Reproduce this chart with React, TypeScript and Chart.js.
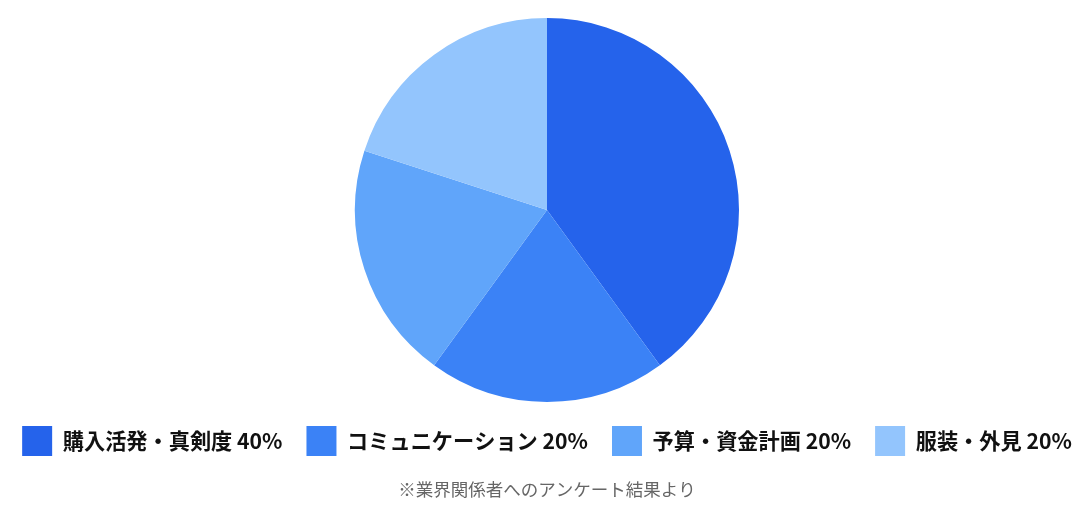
import React, { useEffect, useRef } from "react";
import { Chart, registerables } from "chart.js";

Chart.register(...registerables);

const categories = ["購入活発・真剣度 40%", "コミュニケーション 20%", "予算・資金計画 20%", "服装・外見 20%"];
const values = [40, 20, 20, 20];
const colors = ["#2563eb", "#3b82f6", "#60a5fa", "#93c5fd"];
const footnote = "※業界関係者へのアンケート結果より";

export default function App() {
  const ref = useRef<HTMLCanvasElement>(null);
  useEffect(() => {
    if (!ref.current) return;
    const chart = new Chart(ref.current, {
      type: "pie",
      data: {
        labels: categories,
        datasets: [{ data: values, backgroundColor: colors, borderWidth: 0 }],
      },
      options: {
        animation: false,
        responsive: true,
        maintainAspectRatio: false,
        layout: { padding: { top: 10, bottom: 0, left: -20, right: -20 } },
        plugins: {
          tooltip: { enabled: false },
          legend: {
            position: "bottom",
            labels: {
              boxWidth: 30,
              boxHeight: 30,
              padding: 24,
              color: "#111111",
              font: { family: "'Noto Sans CJK JP', sans-serif", size: 21.2, weight: "bold" },
            },
          },
          subtitle: {
            display: true,
            position: "bottom",
            text: footnote,
            color: "#666666",
            font: { family: "'Noto Sans CJK JP', sans-serif", size: 17.5, weight: "normal" },
            padding: { top: 13, bottom: 0 },
          },
        },
      },
    });
    return () => chart.destroy();
  }, []);
  return (
    <div style={{ width: 1072, height: 492, marginLeft: 3, position: "relative" }}>
      <canvas ref={ref} />
    </div>
  );
}
